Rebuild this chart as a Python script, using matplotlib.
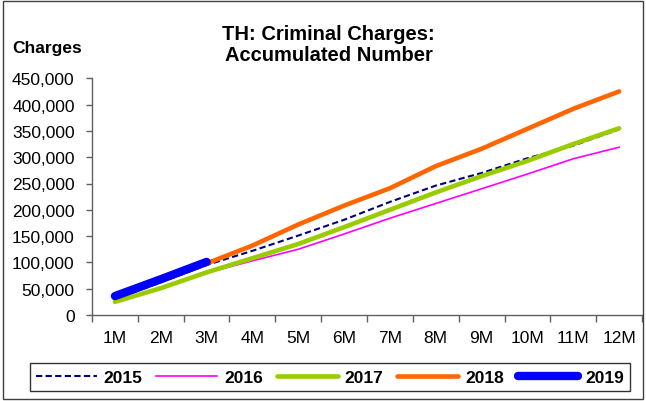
import matplotlib
matplotlib.use("Agg")
import matplotlib.pyplot as plt
from matplotlib.patches import Rectangle
from matplotlib.ticker import FuncFormatter

plt.rcParams['font.family'] = ['Liberation Sans', 'DejaVu Sans']

# Data
months = ["1M", "2M", "3M", "4M", "5M", "6M", "7M", "8M", "9M", "10M", "11M", "12M"]
y2015 = [30000, 62000, 95000, 122000, 151000, 181000, 215000, 246000, 270000, 298000, 322000, 353000]
y2016 = [27000, 50000, 80000, 103000, 125000, 154000, 184000, 212000, 240000, 268000, 297000, 319000]
y2017 = [25000, 51000, 81000, 108000, 135000, 167000, 200000, 233000, 264000, 293000, 325000, 355000]
y2018 = [32000, 65000, 98000, 132000, 172000, 208000, 241000, 283000, 316000, 354000, 392000, 425000]
y2019 = [36000, 68000, 101000]

fig = plt.figure(figsize=(6.46, 4.02), dpi=100)
ax = fig.add_axes([92/646, 86/402, 550/646, 236.7/402])

x = list(range(len(months)))
ax.plot(x, y2015, color='#000080', lw=1.5, ls=(0, (3, 1.6)), label='2015')
ax.plot(x, y2016, color='#FF00FF', lw=1.2, label='2016')
ax.plot(x, y2017, color='#99CC00', lw=3.3, solid_capstyle='round', label='2017')
ax.plot(x, y2018, color='#FF6600', lw=3.3, solid_capstyle='round', label='2018')
ax.plot(x[:len(y2019)], y2019, color='#0000FF', lw=6, solid_capstyle='round', label='2019')

ax.set_xlim(-0.5, 11.5)
ax.set_ylim(0, 450000)
ax.set_yticks(range(0, 450001, 50000))
ax.yaxis.set_major_formatter(FuncFormatter(lambda v, p: f"{int(v):,}"))
ax.set_xticks(x)
ax.set_xticklabels(months)
ax.set_xticks([i - 0.5 for i in range(13)], minor=True)
ax.tick_params(axis='x', which='major', length=0, pad=11, labelsize=12.5)
ax.tick_params(axis='x', which='minor', length=5, width=1, color='#606060', direction='out')
ax.tick_params(axis='y', length=4.5, width=1, color='#606060', pad=8, labelsize=12.5)

for s in ['top', 'right']:
    ax.spines[s].set_visible(False)
for s in ['left', 'bottom']:
    ax.spines[s].set_color('#606060')
    ax.spines[s].set_linewidth(1)

fig.text(328.5/646, 1 - 45/402, "TH: Criminal Charges:\nAccumulated Number",
         ha='center', va='center', fontsize=14.5, fontweight='bold', linespacing=1.1)
fig.text(12/646, 1 - 49/402, "Charges", ha='left', va='center',
         fontsize=12.5, fontweight='bold')

leg = fig.legend(loc='center', bbox_to_anchor=(330/646, 1 - 378/402), ncol=5,
                 frameon=True, fancybox=False, edgecolor='black',
                 prop={'weight': 'bold', 'size': 12.5},
                 handlelength=3.5, handletextpad=0.4, columnspacing=0.8,
                 borderpad=0.35)
leg.get_frame().set_linewidth(1)

fig.patches.append(Rectangle((3/646, 2/402), 640/646, 398/402, transform=fig.transFigure,
                             fill=False, edgecolor='#404040', lw=1))

fig.savefig("out.png", dpi=100)
